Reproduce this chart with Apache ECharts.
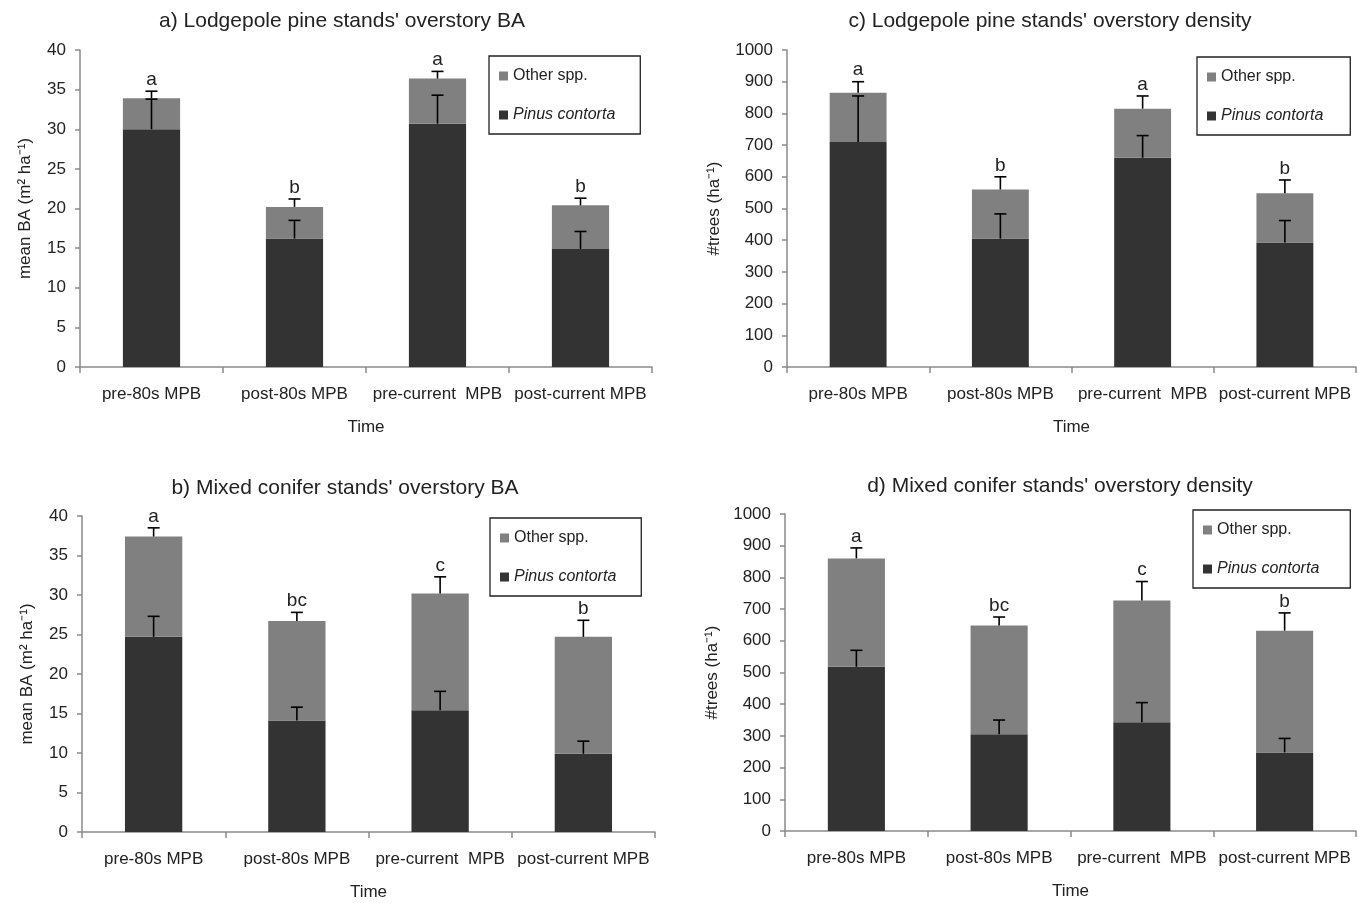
<!DOCTYPE html>
<html>
<head>
<meta charset="utf-8">
<script src="https://cdn.jsdelivr.net/npm/echarts@6/dist/echarts.min.js"></script>
<style>
html,body{margin:0;padding:0;background:#fff;}
#chart{width:1358px;height:903px;}
</style>
</head>
<body>
<div id="chart"></div>
<script>
// ---------- data ----------
const categories = ['pre-80s MPB', 'post-80s MPB', 'pre-current  MPB', 'post-current MPB'];
const baTicksMax = 40, baTicksInterval = 5;
const denTicksMax = 1000, denTicksInterval = 100;

// a) Lodgepole pine stands' overstory BA
const aPinus = [30.0, 16.2, 30.7, 14.9];
const aOther = [3.9, 4.0, 5.7, 5.5];
const aPinusErr = [3.8, 2.3, 3.6, 2.2];
const aTotalErr = [0.9, 1.0, 0.9, 0.9];
const aLetters = ['a', 'b', 'a', 'b'];

// c) Lodgepole pine stands' overstory density
const cPinus = [710, 405, 660, 393];
const cOther = [155, 155, 155, 155];
const cPinusErr = [145, 78, 70, 69];
const cTotalErr = [35, 40, 40, 42];
const cLetters = ['a', 'b', 'a', 'b'];

// b) Mixed conifer stands' overstory BA
const bPinus = [24.7, 14.1, 15.4, 9.9];
const bOther = [12.7, 12.6, 14.8, 14.8];
const bPinusErr = [2.6, 1.7, 2.4, 1.6];
const bTotalErr = [1.1, 1.1, 2.1, 2.1];
const bLetters = ['a', 'bc', 'c', 'b'];

// d) Mixed conifer stands' overstory density
const dPinus = [518, 305, 343, 248];
const dOther = [342, 343, 384, 384];
const dPinusErr = [52, 45, 62, 44];
const dTotalErr = [33, 27, 60, 56];
const dLetters = ['a', 'bc', 'c', 'b'];

const titles = [
  "a) Lodgepole pine stands' overstory BA",
  "c) Lodgepole pine stands' overstory density",
  "b) Mixed conifer stands' overstory BA",
  "d) Mixed conifer stands' overstory density"
];

// ---------- styling ----------
const FONT = 'Liberation Sans, Arial, sans-serif';
const TXT = '#222';
const AXC = '#8a8a8a';
const DARK = '#333333';
const GREY = '#808080';

const panels = [
  {pinus: aPinus, other: aOther, pe: aPinusErr, te: aTotalErr, letters: aLetters, max: baTicksMax, interval: baTicksInterval,
   yname: 'mean BA (m² ha⁻¹)', grid: {left: 80, right: 706, top: 50, height: 317}, nameGap: 46,
   title: {left: 337, top: 6}, legend: {left: 489, top: 56, padR: 25}},
  {pinus: cPinus, other: cOther, pe: cPinusErr, te: cTotalErr, letters: cLetters, max: denTicksMax, interval: denTicksInterval,
   yname: '#trees (ha⁻¹)', grid: {left: 787, right: 2, top: 50, height: 317}, nameGap: 64,
   title: {left: 1045, top: 6}, legend: {left: 1197, top: 57, padR: 27}},
  {pinus: bPinus, other: bOther, pe: bPinusErr, te: bTotalErr, letters: bLetters, max: baTicksMax, interval: baTicksInterval,
   yname: 'mean BA (m² ha⁻¹)', grid: {left: 82, right: 703, top: 516, height: 316}, nameGap: 46,
   title: {left: 340, top: 473}, legend: {left: 490, top: 518, padR: 25}},
  {pinus: dPinus, other: dOther, pe: dPinusErr, te: dTotalErr, letters: dLetters, max: denTicksMax, interval: denTicksInterval,
   yname: '#trees (ha⁻¹)', grid: {left: 785, right: 2, top: 514, height: 317}, nameGap: 64,
   title: {left: 1055, top: 471}, legend: {left: 1193, top: 510, padR: 31}}
];

const grid = [], xAxis = [], yAxis = [], series = [], legend = [], title = [];

function errRender(withLetters, letters) {
  return function (params, api) {
    const i = api.value(0);
    const p0 = api.coord([i, api.value(1)]);
    const p1 = api.coord([i, api.value(2)]);
    const cap = 6;
    const children = [
      {type: 'line', shape: {x1: p0[0], y1: p0[1], x2: p1[0], y2: p1[1]}, style: {stroke: '#000', lineWidth: 1.6}},
      {type: 'line', shape: {x1: p1[0] - cap, y1: p1[1], x2: p1[0] + cap, y2: p1[1]}, style: {stroke: '#000', lineWidth: 1.6}}
    ];
    if (withLetters) {
      children.push({type: 'text', x: p1[0], y: p1[1] - 2,
        style: {text: letters[params.dataIndex], fill: TXT, font: '19px ' + FONT, textAlign: 'center', textVerticalAlign: 'bottom'}});
    }
    return {type: 'group', children: children};
  };
}

panels.forEach((p, k) => {
  grid.push(Object.assign({containLabel: false}, p.grid));
  title.push({text: titles[k], left: p.title.left, top: p.title.top, textAlign: 'center',
    textStyle: {fontFamily: FONT, fontSize: 21, fontWeight: 'normal', color: TXT}});
  xAxis.push({
    type: 'category', gridIndex: k, data: categories,
    name: 'Time', nameLocation: 'middle', nameGap: 52,
    nameTextStyle: {fontFamily: FONT, fontSize: 17, color: TXT},
    axisLine: {lineStyle: {color: AXC, width: 1.5}},
    axisTick: {show: true, length: 6, lineStyle: {color: AXC, width: 1.5}},
    axisLabel: {fontFamily: FONT, fontSize: 17, color: TXT, margin: 19, interval: 0},
    splitLine: {show: false}
  });
  yAxis.push({
    type: 'value', gridIndex: k, min: 0, max: p.max, interval: p.interval,
    name: p.yname, nameLocation: 'middle', nameGap: p.nameGap, nameRotate: 90,
    nameTextStyle: {fontFamily: FONT, fontSize: 17, color: TXT},
    axisLine: {show: true, lineStyle: {color: AXC, width: 1.5}},
    axisTick: {show: true, length: 5, lineStyle: {color: AXC, width: 1.5}},
    axisLabel: {fontFamily: FONT, fontSize: 17, color: TXT, margin: 14, formatter: v => String(v)},
    splitLine: {show: false}
  });
  series.push({
    name: 'Pinus contorta', type: 'bar', xAxisIndex: k, yAxisIndex: k, stack: 's' + k,
    barWidth: '40%', itemStyle: {color: DARK}, data: p.pinus
  });
  series.push({
    name: 'Other spp.', type: 'bar', xAxisIndex: k, yAxisIndex: k, stack: 's' + k,
    barWidth: '40%', itemStyle: {color: GREY}, data: p.other
  });
  series.push({
    type: 'custom', xAxisIndex: k, yAxisIndex: k, z: 5, silent: true,
    renderItem: errRender(false),
    data: p.pinus.map((v, i) => [i, v, v + p.pe[i]])
  });
  series.push({
    type: 'custom', xAxisIndex: k, yAxisIndex: k, z: 5, silent: true,
    renderItem: errRender(true, p.letters),
    data: p.pinus.map((v, i) => [i, v + p.other[i], v + p.other[i] + p.te[i]])
  });
  legend.push({
    left: p.legend.left, top: p.legend.top, orient: 'vertical', selectedMode: false,
    borderColor: '#222', borderWidth: 1.3, padding: [12, p.legend.padR, 11, 10], itemGap: 23,
    itemWidth: 9, itemHeight: 9, icon: 'rect',
    textStyle: {fontFamily: FONT, fontSize: 16, color: TXT},
    data: [{name: 'Other spp.'}, {name: 'Pinus contorta', textStyle: {fontStyle: 'italic'}}]
  });
});

const chart = echarts.init(document.getElementById('chart'));
chart.setOption({
  animation: false,
  backgroundColor: '#fff',
  title: title, grid: grid, xAxis: xAxis, yAxis: yAxis, legend: legend, series: series
});
</script>
</body>
</html>
